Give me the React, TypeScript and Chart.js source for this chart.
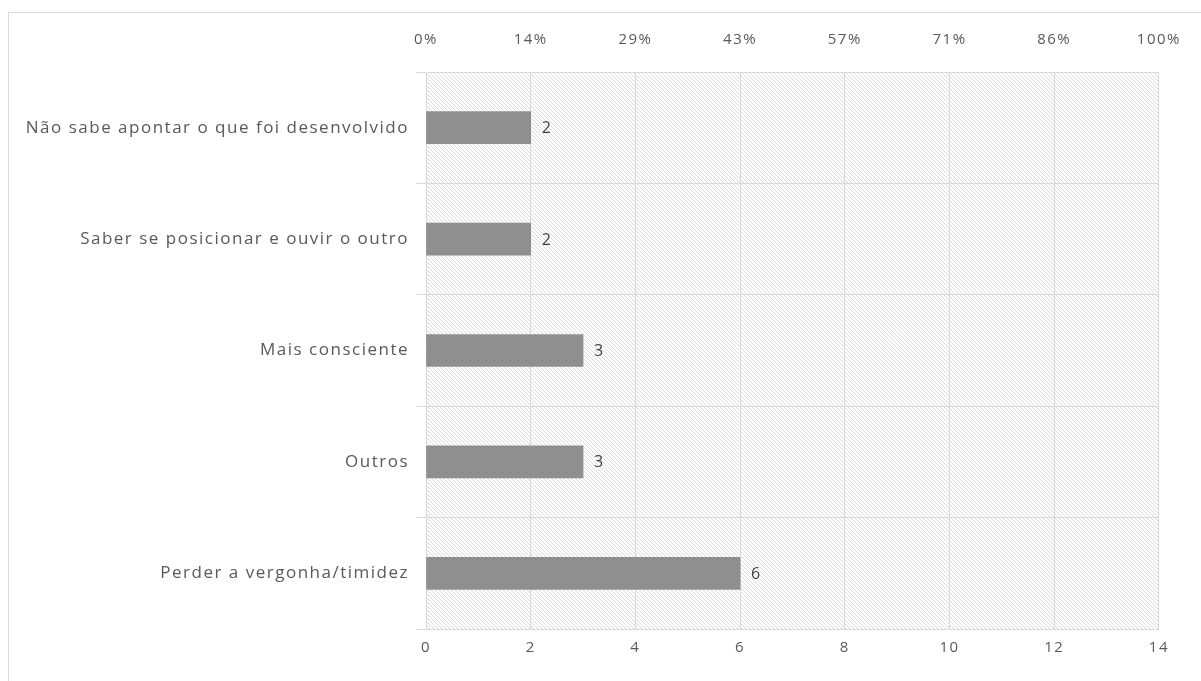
import React, { useEffect, useRef } from "react";
import { Chart, registerables } from "chart.js";

Chart.register(...registerables);

const categories = [
  "Não sabe apontar o que foi desenvolvido",
  "Saber se posicionar e ouvir o outro",
  "Mais consciente",
  "Outros",
  "Perder a vergonha/timidez",
];
const values = [2, 2, 3, 3, 6];
const axisMax = 14;
const bottomTicks = [0, 2, 4, 6, 8, 10, 12, 14];
const percentLabels = ["0%", "14%", "29%", "43%", "57%", "71%", "86%", "100%"];

const FONT = "'Open Sans', 'Liberation Sans', sans-serif";
const TEXT = "#595959";
const GRID = "#d9d9d9";

const hatchPlugin = {
  id: "hatch",
  beforeDraw(chart: any) {
    const { ctx, chartArea } = chart;
    const { left, right, top, bottom } = chartArea;
    const h = bottom - top;
    ctx.save();
    ctx.beginPath();
    ctx.rect(left, top, right - left, h);
    ctx.clip();
    ctx.strokeStyle = "#d9d9d9";
    ctx.lineWidth = 1;
    ctx.beginPath();
    for (let k = -h; k < right - left; k += 4) {
      ctx.moveTo(left + k, top);
      ctx.lineTo(left + k + h, bottom);
    }
    ctx.stroke();
    ctx.restore();
    (ctx as any).letterSpacing = "1.5px";
  },
  afterDraw(chart: any) {
    (chart.ctx as any).letterSpacing = "0px";
  },
};

const labelPlugin = {
  id: "barLabels",
  afterDatasetsDraw(chart: any) {
    const { ctx } = chart;
    const meta = chart.getDatasetMeta(0);
    ctx.save();
    ctx.fillStyle = "#404040";
    ctx.font = `16px ${FONT}`;
    ctx.textAlign = "left";
    ctx.textBaseline = "middle";
    meta.data.forEach((el: any, i: number) => {
      ctx.fillText(String(values[i]), el.x + 11, el.y + 1);
    });
    ctx.restore();
  },
};

export default function App() {
  const ref = useRef<HTMLCanvasElement>(null);
  useEffect(() => {
    if (!ref.current) return;
    const chart = new Chart(ref.current, {
      type: "bar",
      data: {
        labels: categories,
        datasets: [
          {
            data: values,
            backgroundColor: "#8f8f8f",
            borderWidth: 0,
            barThickness: 32,
            xAxisID: "x",
            yAxisID: "y",
          },
        ],
      },
      options: {
        indexAxis: "y",
        animation: false,
        responsive: false,
        devicePixelRatio: 1,
        layout: { padding: { left: 0, right: 40, top: 0, bottom: 0 } },
        plugins: { legend: { display: false }, tooltip: { enabled: false } },
        scales: {
          x: {
            type: "linear",
            position: "bottom",
            min: 0,
            max: axisMax,
            afterBuildTicks: (s: any) => {
              s.ticks = bottomTicks.map((v) => ({ value: v }));
            },
            ticks: { color: TEXT, font: { family: FONT, size: 15 }, padding: 10 },
            grid: { color: GRID, drawTicks: false },
            border: { display: false },
            afterFit: (s: any) => {
              s.height = 52;
            },
          },
          x2: {
            type: "linear",
            position: "top",
            min: 0,
            max: axisMax,
            afterBuildTicks: (s: any) => {
              s.ticks = bottomTicks.map((v) => ({ value: v }));
            },
            ticks: {
              color: TEXT,
              font: { family: FONT, size: 15 },
              padding: 23,
              callback: (_v: any, i: number) => percentLabels[i],
            },
            grid: { display: false, drawTicks: false },
            border: { display: false },
            afterFit: (s: any) => {
              s.height = 72;
            },
          },
          y: {
            type: "category",
            position: "left",
            ticks: { color: TEXT, font: { family: FONT, size: 17 }, padding: 7 },
            grid: { color: GRID, offset: true, tickLength: 10 },
            border: { display: false },
            afterFit: (s: any) => {
              s.width = 426;
            },
          },
        },
      },
      plugins: [hatchPlugin, labelPlugin],
    });
    return () => chart.destroy();
  }, []);

  return (
    <div style={{ position: "absolute", left: 0, top: 0, width: 1201, height: 681, background: "#fff", overflow: "hidden" }}>
      <div
        style={{
          position: "absolute",
          left: 8,
          top: 12,
          width: 1200,
          height: 680,
          border: `1px solid ${GRID}`,
        }}
      />
      <canvas ref={ref} width={1201} height={681} style={{ position: "absolute", left: 0, top: 0 }} />
    </div>
  );
}
